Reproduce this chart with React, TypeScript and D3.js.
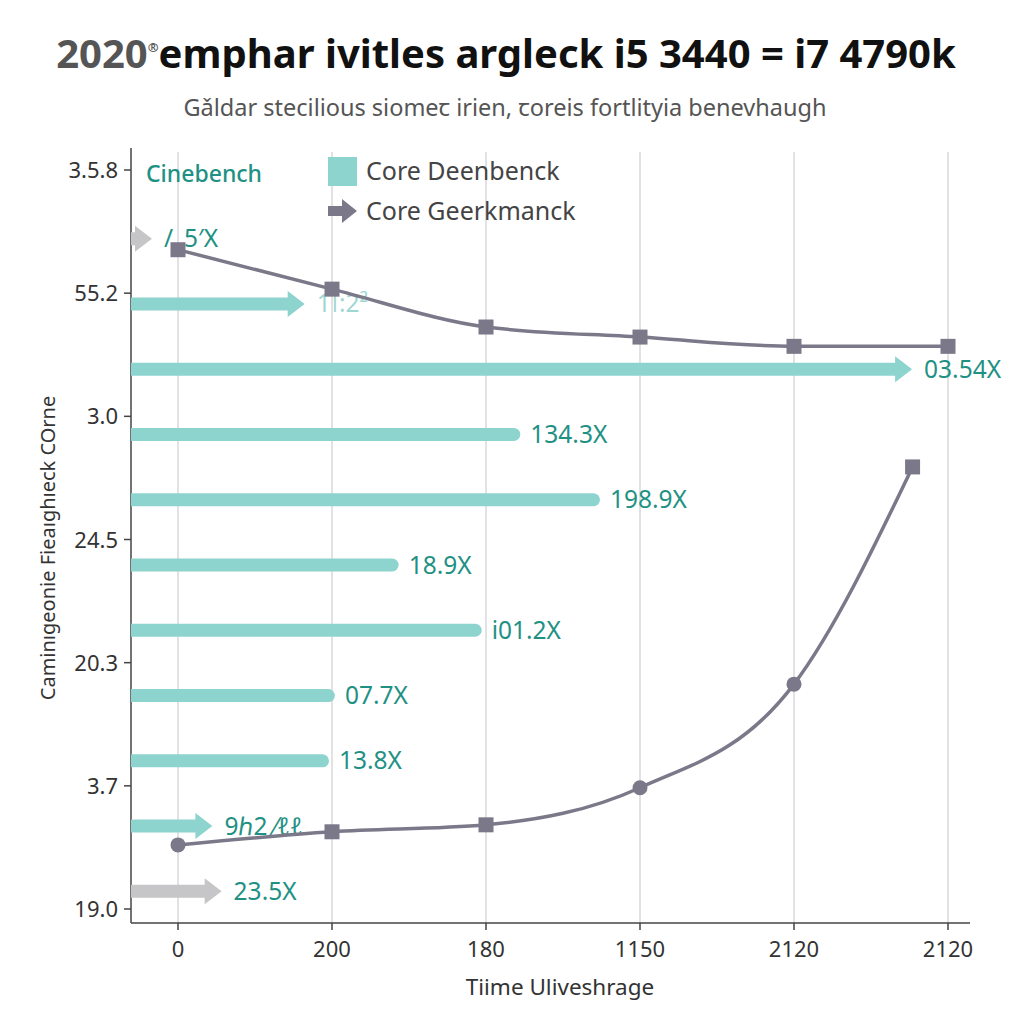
import React from "react";
import * as d3 from "d3";

const yTickLabels = ["3.5.8", "55.2", "3.0", "24.5", "20.3", "3.7", "19.0"];
const xTickLabels = ["0", "200", "180", "1150", "2120", "2120"];

const barNames = ["b1", "b2", "b3", "b4", "b5", "b6", "b7", "b8", "b9", "b10", "b11"];
const barValues = [2.5, 20.7, 93.1, 46.4, 55.9, 31.9, 41.8, 24.3, 23.6, 9.7, 10.8];
const barLabels = ["/_5\u2032X", "1\u01C0:2\u00B2", "03.54X", "134.3X", "198.9X", "18.9X", "i01.2X", "07.7X", "13.8X", "9\u210E2 \u2044\u2113\u2113", "23.5X"];
const barKinds = ["grayArrow", "arrow", "arrow", "round", "round", "round", "round", "round", "round", "arrow", "grayArrow"];

const topLineX = [0, 1, 2, 3, 4, 5];
const topLineY = [87.1, 82.0, 77.1, 75.8, 74.6, 74.6];
const topMarkers = ["square", "square", "square", "square", "square", "square"];
const bottomLineX = [0, 1, 2, 3, 4, 4.77];
const bottomLineY = [10.1, 11.8, 12.7, 17.5, 30.9, 59.0];
const bottomMarkers = ["circle", "square", "square", "circle", "circle", "square"];

const TEAL = "#8dd4ce";
const TEAL_TEXT = "#1f9184";
const GRAY_ARROW = "#c6c6c8";
const LINE = "#7b7989";
const FONT = "'Noto Sans', 'Open Sans', sans-serif";

export default function App() {
  const W = 1024, H = 1024;
  const left = 131, right = 970, top = 148, bottom = 923;

  const xBar = d3.scaleLinear().domain([0, 100]).range([left, right]);
  const yBand = d3.scaleBand().domain(barNames).range([206, 924]).paddingInner(0.8).paddingOuter(0.4);
  const xLine = d3.scaleLinear().domain([0, 5]).range([178, 948]);
  const yLine = d3.scaleLinear().domain([0, 100]).range([923, 150]);
  const yTicks = d3.scalePoint().domain(yTickLabels).range([170, 909]);
  const xTicks = d3.scalePoint().domain(xTickLabels.map((d, i) => i + "")).range([178, 948]);

  const lineGen = d3.line<[number, number]>()
    .x(d => xLine(d[0]))
    .y(d => yLine(d[1]))
    .curve(d3.curveMonotoneX);

  const topPts: [number, number][] = topLineX.map((x, i) => [x, topLineY[i]]);
  const botPts: [number, number][] = bottomLineX.map((x, i) => [x, bottomLineY[i]]);

  const bh = 13;

  const renderBar = (name: string, i: number) => {
    const yc = (yBand(name) as number) + yBand.bandwidth() / 2;
    const x1 = xBar(barValues[i]);
    const kind = barKinds[i];
    if (kind === "round") {
      const r = bh / 2;
      const path = `M${left},${yc - r} L${x1 - r},${yc - r} A${r},${r} 0 0 1 ${x1 - r},${yc + r} L${left},${yc + r} Z`;
      return <path key={name} d={path} fill={TEAL} />;
    }
    const color = kind === "grayArrow" ? GRAY_ARROW : TEAL;
    const headL = 17, headH = 13;
    const sx = Math.max(left, x1 - headL);
    const path = `M${left},${yc - bh / 2} L${sx},${yc - bh / 2} L${sx},${yc - headH} L${x1},${yc} L${sx},${yc + headH} L${sx},${yc + bh / 2} L${left},${yc + bh / 2} Z`;
    return <path key={name} d={path} fill={color} />;
  };

  const renderMarker = (kind: string, px: number, py: number, k: string) =>
    kind === "circle" ? (
      <circle key={k} cx={px} cy={py} r={7.5} fill={LINE} />
    ) : (
      <rect key={k} x={px - 7.5} y={py - 7.5} width={15} height={15} fill={LINE} />
    );

  return (
    <svg width={W} height={H} viewBox={`0 0 ${W} ${H}`} style={{ display: "block", margin: "-8px", background: "#ffffff" }}>
      <rect width={W} height={H} fill="#ffffff" />
      {/* title */}
      <text x={506} y={68} textAnchor="middle" fontFamily={FONT} fontSize={40} fontWeight={700} fill="#111">
        <tspan fill="#555">2020</tspan>
        <tspan fontSize={13} dy={-16} fill="#555">®</tspan>
        <tspan dy={16}>emphar ivitles argleck i5 3440 = i7 4790k</tspan>
      </text>
      <text x={505} y={116} textAnchor="middle" fontFamily={FONT} fontSize={23.5} fill="#555">
        Gǎldar stecilious siomeꞇ irien, ꞇoreis fortlityia benevhaugh
      </text>

      {/* grid */}
      {xTickLabels.map((_, i) => (
        <line key={"g" + i} x1={xTicks(i + "")} x2={xTicks(i + "")} y1={152} y2={bottom} stroke="#e2e2e4" strokeWidth={2} />
      ))}

      {/* axes */}
      <line x1={left} x2={left} y1={148} y2={bottom} stroke="#444" strokeWidth={1.5} />
      <line x1={left} x2={right} y1={bottom} y2={bottom} stroke="#444" strokeWidth={1.5} />
      {yTickLabels.map(l => (
        <g key={l}>
          <line x1={left - 7} x2={left} y1={yTicks(l)} y2={yTicks(l)} stroke="#444" strokeWidth={1.5} />
          <text x={left - 13} y={(yTicks(l) as number) + 8} textAnchor="end" fontFamily={FONT} fontSize={22} fill="#333">{l}</text>
        </g>
      ))}
      {xTickLabels.map((l, i) => (
        <g key={"x" + i}>
          <line x1={xTicks(i + "")} x2={xTicks(i + "")} y1={bottom} y2={bottom + 7} stroke="#444" strokeWidth={1.5} />
          <text x={xTicks(i + "")} y={bottom + 34} textAnchor="middle" fontFamily={FONT} fontSize={22} fill="#333">{l}</text>
        </g>
      ))}
      <text x={560} y={995} textAnchor="middle" fontFamily={FONT} fontSize={22.5} fill="#333">Tiime Uliveshrage</text>
      <text transform="translate(55,548) rotate(-90)" textAnchor="middle" fontFamily={FONT} fontSize={20} fill="#333">Caminıgeonie Fieaıghıeck COrne</text>

      {/* legend */}
      <text x={146} y={182} fontFamily={FONT} fontSize={23} fill={TEAL_TEXT} fontWeight={500}>Cinebench</text>
      <rect x={328} y={157} width={29} height={29} fill={TEAL} />
      <text x={366} y={180} fontFamily={FONT} fontSize={25} fill="#444">Core Deenbenck</text>
      <path d="M328,206 L342,206 L342,199 L357,211 L342,223 L342,216 L328,216 Z" fill={LINE} />
      <text x={366} y={220} fontFamily={FONT} fontSize={25} fill="#444">Core Geerkmanck</text>

      {/* bars */}
      {barNames.map((n, i) => renderBar(n, i))}
      {barNames.map((n, i) => {
        const yc = (yBand(n) as number) + yBand.bandwidth() / 2;
        const x1 = xBar(barValues[i]);
        const off = barKinds[i] === "round" ? 10 : 12;
        return (
          <text key={"l" + n} x={x1 + off} y={yc + 8.5} fontFamily={FONT} fontSize={24.5} fill={i === 1 ? "#9fd8d2" : TEAL_TEXT}>
            {barLabels[i]}
          </text>
        );
      })}

      {/* lines */}
      <path d={lineGen(topPts) || ""} fill="none" stroke={LINE} strokeWidth={3.5} />
      <path d={lineGen(botPts) || ""} fill="none" stroke={LINE} strokeWidth={3.5} />
      {topPts.map((p, i) => renderMarker(topMarkers[i], xLine(p[0]), yLine(p[1]), "t" + i))}
      {botPts.map((p, i) => renderMarker(bottomMarkers[i], xLine(p[0]), yLine(p[1]), "b" + i))}
    </svg>
  );
}
